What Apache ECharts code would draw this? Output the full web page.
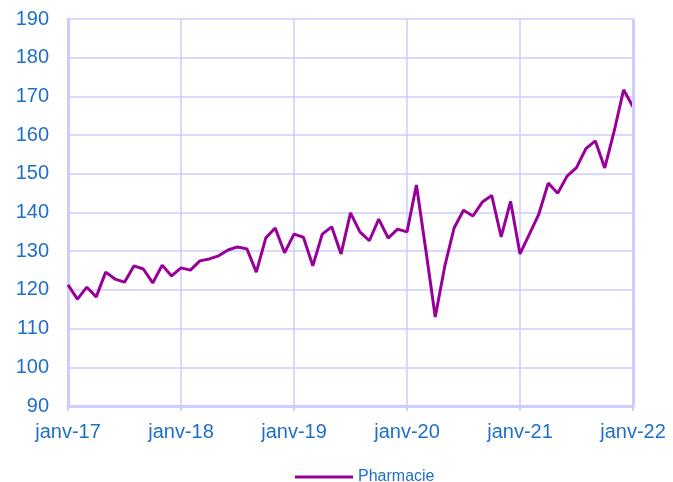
<!DOCTYPE html>
<html>
<head>
<meta charset="utf-8">
<script src="https://cdn.jsdelivr.net/npm/echarts@6/dist/echarts.min.js"></script>
<style>
  html, body { margin: 0; padding: 0; background: #fff; }
  #main { width: 673px; height: 482px; }
</style>
</head>
<body>
<div id="main"></div>
<script>
// mois de janv-17 à janv-22
const moisNoms = ['janv', 'févr', 'mars', 'avr', 'mai', 'juin', 'juil', 'août', 'sept', 'oct', 'nov', 'déc'];
const annees = ['17', '18', '19', '20', '21', '22'];
const mois = [];
annees.forEach(function (a, i) {
  moisNoms.forEach(function (m, j) {
    if (i < annees.length - 1 || j === 0) mois.push(m + '-' + a);
  });
});

const pharmacie = [
  121.3, 117.6, 120.7, 118.2, 124.6, 122.8, 122.0, 126.2, 125.4, 121.8, 126.4, 123.6,
  125.7, 125.1, 127.5, 128.0, 128.8, 130.3, 131.1, 130.6, 124.6, 133.4, 136.0, 129.6,
  134.4, 133.6, 126.2, 134.4, 136.3, 129.3, 139.9, 135.0, 132.7, 138.3, 133.4, 135.7,
  135.0, 147.1, 130.3, 113.0, 126.0, 136.0, 140.6, 139.1, 142.7, 144.4, 133.7, 142.9,
  129.3, 134.4, 139.6, 147.6, 145.0, 149.4, 151.6, 156.5, 158.5, 151.5, 161.0, 171.7,
  167.3
];

const yMin = 90, yMax = 190, yPas = 10;

const bleu = '#1E6FC8';
const lavande = '#CCCCFF';

const myChart = echarts.init(document.getElementById('main'));
const option = {
  animation: false,
  textStyle: { fontFamily: 'Liberation Sans, Arial, sans-serif' },
  grid: { left: 68, right: 40, top: 19, bottom: 76 },
  legend: {
    top: 464,
    left: 290,
    data: ['Pharmacie'],
    icon: 'rect',
    itemWidth: 58,
    itemHeight: 3,
    itemGap: 10,
    textStyle: { color: bleu, fontSize: 16 }
  },
  xAxis: {
    type: 'category',
    data: mois,
    boundaryGap: false,
    axisLine: { lineStyle: { color: lavande, width: 3 } },
    axisTick: { interval: 11, length: 5, lineStyle: { color: lavande, width: 2 } },
    axisLabel: {
      interval: 11,
      color: bleu,
      fontSize: 20,
      margin: 16
    },
    splitLine: { show: true, interval: 11, lineStyle: { color: lavande, width: 1.5 } }
  },
  yAxis: {
    type: 'value',
    min: yMin,
    max: yMax,
    interval: yPas,
    axisLine: { show: true, lineStyle: { color: lavande, width: 3 } },
    axisTick: { show: false },
    axisLabel: { color: bleu, fontSize: 20, margin: 19 },
    splitLine: { lineStyle: { color: lavande, width: 1.5 } }
  },
  series: [
    {
      name: 'Pharmacie',
      type: 'line',
      data: pharmacie,
      symbol: 'none',
      lineStyle: { color: '#990099', width: 3 },
      itemStyle: { color: '#990099' }
    },
    {
      // bordure droite du graphique
      type: 'line',
      data: [],
      markLine: {
        silent: true,
        symbol: 'none',
        label: { show: false },
        lineStyle: { color: lavande, width: 3, type: 'solid' },
        data: [{ xAxis: mois.length - 1 }]
      }
    }
  ]
};
myChart.setOption(option);
</script>
</body>
</html>
